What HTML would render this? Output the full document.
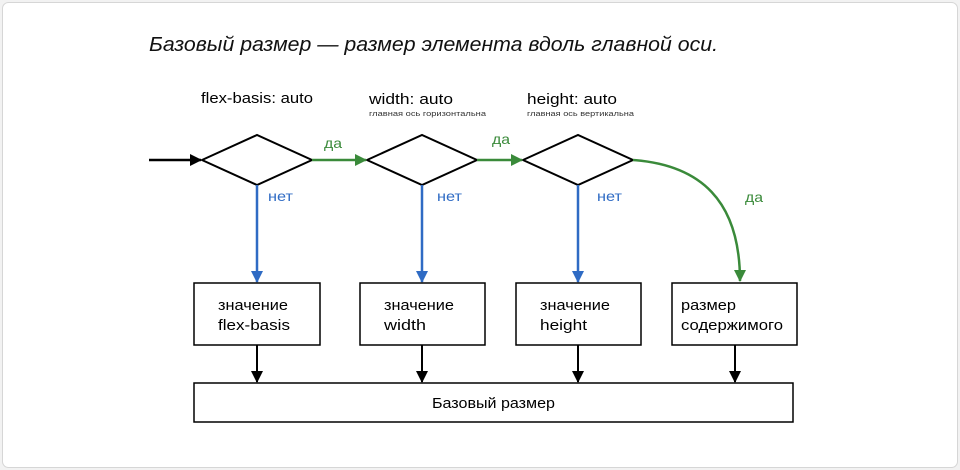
<!DOCTYPE html>
<html><head><meta charset="utf-8"><style>
body{margin:0;background:#f2f2f2;}
svg{display:block;font-family:"Liberation Sans","DejaVu Sans",sans-serif;}
</style></head><body>
<svg width="960" height="470" viewBox="0 0 960 470">
<defs>
<marker id="k" markerWidth="12" markerHeight="12" refX="11" refY="6" orient="auto" markerUnits="userSpaceOnUse"><path d="M0,0 L12,6 L0,12Z" fill="#000"/></marker>
<marker id="g" markerWidth="12" markerHeight="12" refX="11" refY="6" orient="auto" markerUnits="userSpaceOnUse"><path d="M0,0 L12,6 L0,12Z" fill="#3a8a3a"/></marker>
<marker id="b" markerWidth="12" markerHeight="12" refX="11" refY="6" orient="auto" markerUnits="userSpaceOnUse"><path d="M0,0 L12,6 L0,12Z" fill="#2f6bc4"/></marker>
</defs>
<rect x="2.5" y="2.5" width="955" height="465" rx="6" fill="#fff" stroke="#d6d6d6"/>
<text x="149" y="51" font-size="20" font-style="italic" fill="#111" textLength="569" lengthAdjust="spacingAndGlyphs">Базовый размер — размер элемента вдоль главной оси.</text>
<text x="201" y="103" font-size="15" textLength="112" lengthAdjust="spacingAndGlyphs">flex-basis: auto</text>
<text x="369" y="104" font-size="15" textLength="84" lengthAdjust="spacingAndGlyphs">width: auto</text>
<text x="369" y="116" font-size="7" fill="#333" textLength="117" lengthAdjust="spacingAndGlyphs">главная ось горизонтальна</text>
<text x="527" y="104" font-size="15" textLength="90" lengthAdjust="spacingAndGlyphs">height: auto</text>
<text x="527" y="116" font-size="7" fill="#333" textLength="107" lengthAdjust="spacingAndGlyphs">главная ось вертикальна</text>
<g fill="#fff" stroke="#000" stroke-width="2">
<path d="M202,160 L257,135 L312,160 L257,185Z"/>
<path d="M367,160 L422,135 L477,160 L422,185Z"/>
<path d="M523,160 L578,135 L633,160 L578,185Z"/>
</g>
<line x1="149" y1="160" x2="201" y2="160" stroke="#000" stroke-width="2.5" marker-end="url(#k)"/>
<g stroke="#3a8a3a" stroke-width="2.5" fill="none">
<line x1="312" y1="160" x2="366" y2="160" marker-end="url(#g)"/>
<line x1="477" y1="160" x2="522" y2="160" marker-end="url(#g)"/>
<path d="M633,160 C700,165 740,200 740,281" marker-end="url(#g)"/>
</g>
<g fill="#3a8a3a" font-size="14"><text x="324" y="148" textLength="18" lengthAdjust="spacingAndGlyphs">да</text><text x="492" y="144" textLength="18" lengthAdjust="spacingAndGlyphs">да</text><text x="745" y="202" textLength="18" lengthAdjust="spacingAndGlyphs">да</text></g>
<g stroke="#2f6bc4" stroke-width="2.5">
<line x1="257" y1="185" x2="257" y2="282" marker-end="url(#b)"/>
<line x1="422" y1="185" x2="422" y2="282" marker-end="url(#b)"/>
<line x1="578" y1="185" x2="578" y2="282" marker-end="url(#b)"/>
</g>
<g fill="#2f6bc4" font-size="14"><text x="268" y="201" textLength="25" lengthAdjust="spacingAndGlyphs">нет</text><text x="437" y="201" textLength="25" lengthAdjust="spacingAndGlyphs">нет</text><text x="597" y="201" textLength="25" lengthAdjust="spacingAndGlyphs">нет</text></g>
<g fill="#fff" stroke="#000" stroke-width="1.5">
<rect x="194" y="283" width="126" height="62"/>
<rect x="360" y="283" width="125" height="62"/>
<rect x="516" y="283" width="125" height="62"/>
<rect x="672" y="283" width="125" height="62"/>
<rect x="194" y="383" width="599" height="39"/>
</g>
<g font-size="15" fill="#000">
<text x="218" y="310" textLength="70" lengthAdjust="spacingAndGlyphs">значение</text><text x="218" y="330" textLength="72" lengthAdjust="spacingAndGlyphs">flex-basis</text>
<text x="384" y="310" textLength="70" lengthAdjust="spacingAndGlyphs">значение</text><text x="384" y="330" textLength="42" lengthAdjust="spacingAndGlyphs">width</text>
<text x="540" y="310" textLength="70" lengthAdjust="spacingAndGlyphs">значение</text><text x="540" y="330" textLength="47" lengthAdjust="spacingAndGlyphs">height</text>
<text x="681" y="310" textLength="55" lengthAdjust="spacingAndGlyphs">размер</text><text x="681" y="330" textLength="102" lengthAdjust="spacingAndGlyphs">содержимого</text>
<text x="432" y="408" textLength="123" lengthAdjust="spacingAndGlyphs">Базовый размер</text>
</g>
<g stroke="#000" stroke-width="2">
<line x1="257" y1="345" x2="257" y2="382" marker-end="url(#k)"/>
<line x1="422" y1="345" x2="422" y2="382" marker-end="url(#k)"/>
<line x1="578" y1="345" x2="578" y2="382" marker-end="url(#k)"/>
<line x1="735" y1="345" x2="735" y2="382" marker-end="url(#k)"/>
</g>
</svg>
</body></html>
